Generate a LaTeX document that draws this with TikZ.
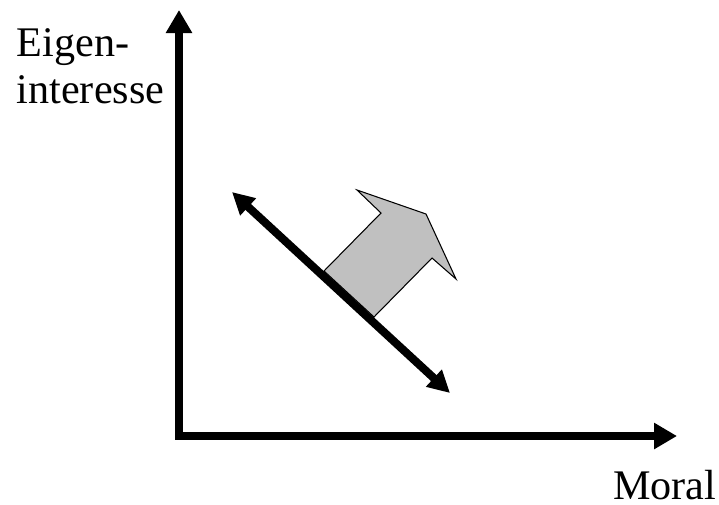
\documentclass[tikz,border=0pt]{standalone}
\usepackage{fontspec}
\setmainfont{Liberation Serif}
\usetikzlibrary{arrows.meta}

\begin{document}
\begin{tikzpicture}[
    bothtips/.style={{Triangle[length=0.23cm,width=0.25cm]}-{Triangle[length=0.23cm,width=0.25cm]}},
    linetips/.style={{Triangle[length=0.22cm,width=0.22cm]}-{Triangle[length=0.22cm,width=0.22cm]}},
    thickline/.style={line width=2.3pt, line join=miter},
    axislabel/.style={font=\fontsize{12}{13.1}\selectfont, inner sep=0pt},
    shiftarrow/.style={fill={rgb,255:red,192;green,192;blue,192}, draw=black, line width=0.3pt, line join=miter}
]
    \useasboundingbox (0,0) rectangle (7.19,5.04);

    % Axes
    \coordinate (origin) at (1.79,0.68);
    \coordinate (ytip) at (1.79,4.94);
    \coordinate (xtip) at (6.77,0.68);
    \draw[thickline, bothtips] (ytip) -- (origin) -- (xtip);

    % Labels
    \node[axislabel, anchor=base west, align=left] (eigen) at (0.16,4.01) {Eigen-\\interesse};
    \node[axislabel, anchor=base east] (moral) at (7.17,0.05) {Moral};

    % Shift of the line
    \draw[shiftarrow] (3.24,2.33) -- (3.81,2.91) -- (3.57,3.14) -- (4.26,2.90)
        -- (4.56,2.25) -- (4.32,2.46) -- (3.74,1.87) -- cycle;

    % Trade-off line
    \coordinate (upper) at (2.32,3.12);
    \coordinate (lower) at (4.50,1.11);
    \draw[thickline, linetips] (upper) -- (lower);
\end{tikzpicture}
\end{document}
